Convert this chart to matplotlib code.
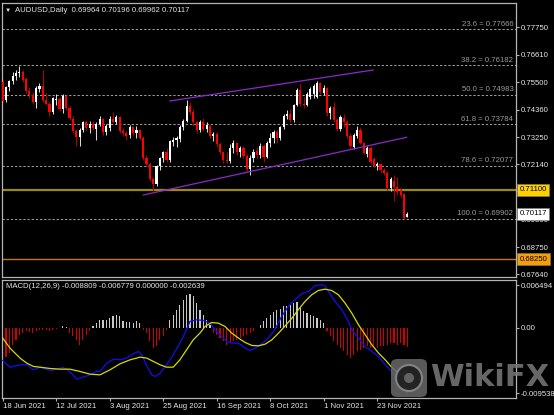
import numpy as np
import pandas as pd
import matplotlib
matplotlib.use("Agg")
import matplotlib.pyplot as plt
from matplotlib.transforms import blended_transform_factory
from matplotlib.patches import FancyBboxPatch, Ellipse

plt.rcParams['font.family'] = ['Liberation Sans', 'DejaVu Sans']

# ---- AUDUSD daily candles, 18 Jun 2021 .. 6 Dec 2021 ----
start_date = '2021-06-18'
o = [0.7550, 0.7478, 0.7528, 0.7555, 0.7575, 0.7585, 0.7592, 0.7562, 0.7512, 0.7497,
     0.7470, 0.7522, 0.7535, 0.7478, 0.7462, 0.7428, 0.7478, 0.7482, 0.7438, 0.7492,
     0.7442, 0.7400, 0.7350, 0.7325, 0.7352, 0.7385, 0.7362, 0.7380, 0.7360, 0.7378,
     0.7400, 0.7345, 0.7362, 0.7400, 0.7388, 0.7408, 0.7348, 0.7342, 0.7332, 0.7366,
     0.7342, 0.7352, 0.7322, 0.7238, 0.7215, 0.7155, 0.7135, 0.7205, 0.7240, 0.7262,
     0.7230, 0.7305, 0.7312, 0.7318, 0.7368, 0.7390, 0.7450, 0.7428, 0.7385, 0.7352,
     0.7385, 0.7358, 0.7372, 0.7328, 0.7338, 0.7295, 0.7265, 0.7232, 0.7228, 0.7280,
     0.7300, 0.7262, 0.7282, 0.7248, 0.7195, 0.7238, 0.7270, 0.7250, 0.7290, 0.7245,
     0.7300, 0.7320, 0.7345, 0.7320, 0.7365, 0.7410, 0.7420, 0.7395, 0.7455, 0.7517,
     0.7462, 0.7456, 0.7488, 0.7500, 0.7490, 0.7545, 0.7505, 0.7525, 0.7425, 0.7448,
     0.7395, 0.7360, 0.7405, 0.7385, 0.7330, 0.7285, 0.7330, 0.7355, 0.7300, 0.7255,
     0.7280, 0.7235, 0.7205, 0.7215, 0.7190, 0.7180, 0.7115, 0.7145, 0.7122, 0.7110,
     0.7092, 0.69964]
h = [0.7562, 0.7535, 0.7560, 0.7590, 0.7600, 0.7617, 0.7600, 0.7572, 0.7528, 0.7510,
     0.7532, 0.7548, 0.7599, 0.7505, 0.7470, 0.7490, 0.7500, 0.7490, 0.7500, 0.7498,
     0.7450, 0.7410, 0.7360, 0.7362, 0.7390, 0.7395, 0.7390, 0.7392, 0.7385, 0.7412,
     0.7405, 0.7380, 0.7410, 0.7427, 0.7415, 0.7412, 0.7362, 0.7350, 0.7375, 0.7372,
     0.7370, 0.7360, 0.7330, 0.7250, 0.7225, 0.7160, 0.7212, 0.7245, 0.7270, 0.7282,
     0.7315, 0.7325, 0.7330, 0.7375, 0.7400, 0.7478, 0.7470, 0.7440, 0.7392, 0.7395,
     0.7405, 0.7385, 0.7380, 0.7345, 0.7345, 0.7305, 0.7270, 0.7262, 0.7295, 0.7315,
     0.7305, 0.7290, 0.7290, 0.7255, 0.7250, 0.7275, 0.7285, 0.7300, 0.7295, 0.7310,
     0.7340, 0.7355, 0.7355, 0.7370, 0.7420, 0.7435, 0.7440, 0.7460, 0.7525, 0.7546,
     0.7490, 0.7508, 0.7530, 0.7540, 0.7556, 0.7550, 0.7538, 0.7530, 0.7450, 0.7470,
     0.7405, 0.7415, 0.7420, 0.7395, 0.7340, 0.7340, 0.7370, 0.7365, 0.7305, 0.7290,
     0.7290, 0.7245, 0.7225, 0.7220, 0.7200, 0.7185, 0.7160, 0.7170, 0.7160, 0.7115,
     0.7098, 0.70196]
l = [0.7468, 0.7470, 0.7512, 0.7540, 0.7560, 0.7570, 0.7550, 0.7505, 0.7485, 0.7462,
     0.7445, 0.7510, 0.7470, 0.7455, 0.7410, 0.7420, 0.7455, 0.7430, 0.7425, 0.7435,
     0.7395, 0.7340, 0.7289, 0.7288, 0.7345, 0.7355, 0.7340, 0.7355, 0.7315, 0.7372,
     0.7335, 0.7335, 0.7350, 0.7382, 0.7380, 0.7340, 0.7330, 0.7315, 0.7320, 0.7335,
     0.7322, 0.7315, 0.7230, 0.7205, 0.7145, 0.7106, 0.7125, 0.7190, 0.7225, 0.7222,
     0.7222, 0.7290, 0.7285, 0.7305, 0.7355, 0.7385, 0.7420, 0.7370, 0.7340, 0.7345,
     0.7350, 0.7345, 0.7320, 0.7310, 0.7285, 0.7255, 0.7220, 0.7220, 0.7220, 0.7260,
     0.7250, 0.7245, 0.7240, 0.7185, 0.7170, 0.7225, 0.7240, 0.7240, 0.7225, 0.7240,
     0.7285, 0.7300, 0.7300, 0.7315, 0.7360, 0.7400, 0.7385, 0.7385, 0.7450, 0.7450,
     0.7445, 0.7450, 0.7480, 0.7485, 0.7485, 0.7500, 0.7495, 0.7410, 0.7400, 0.7385,
     0.7350, 0.7350, 0.7365, 0.7320, 0.7280, 0.7275, 0.7320, 0.7295, 0.7255, 0.7245,
     0.7215, 0.7200, 0.7190, 0.7180, 0.7170, 0.7110, 0.7105, 0.7063, 0.7090, 0.7080,
     0.6992, 0.69962]
c = [0.7472, 0.7528, 0.7555, 0.7575, 0.7588, 0.7590, 0.7560, 0.7512, 0.7495, 0.7470,
     0.7525, 0.7535, 0.7478, 0.7462, 0.7428, 0.7485, 0.7482, 0.7438, 0.7492, 0.7442,
     0.7402, 0.7350, 0.7325, 0.7352, 0.7385, 0.7362, 0.7380, 0.7362, 0.7378, 0.7400,
     0.7345, 0.7372, 0.7400, 0.7388, 0.7408, 0.7348, 0.7340, 0.7330, 0.7368, 0.7342,
     0.7355, 0.7322, 0.7238, 0.7215, 0.7155, 0.7135, 0.7205, 0.7240, 0.7262, 0.7230,
     0.7310, 0.7315, 0.7320, 0.7368, 0.7392, 0.7450, 0.7428, 0.7385, 0.7352, 0.7385,
     0.7360, 0.7375, 0.7328, 0.7338, 0.7295, 0.7265, 0.7232, 0.7228, 0.7282, 0.7300,
     0.7262, 0.7282, 0.7248, 0.7195, 0.7238, 0.7265, 0.7250, 0.7290, 0.7245, 0.7300,
     0.7320, 0.7345, 0.7320, 0.7365, 0.7410, 0.7420, 0.7395, 0.7455, 0.7517, 0.7460,
     0.7455, 0.7502, 0.7522, 0.7535, 0.7545, 0.7510, 0.7525, 0.7425, 0.7445, 0.7395,
     0.7360, 0.7408, 0.7385, 0.7330, 0.7290, 0.7335, 0.7355, 0.7300, 0.7260, 0.7280,
     0.7225, 0.7208, 0.7215, 0.7190, 0.7178, 0.7115, 0.7155, 0.7120, 0.7100, 0.7090,
     0.6996, 0.70117]

# ---- MACD(12,26,9) panel ----
macd_hist = [-0.00299, -0.00390, -0.00344, -0.00231, -0.00163, -0.00095, -0.00072, -0.00050, -0.00063, -0.00072,
             -0.00050, -0.00027, -0.00036, -0.00027, -0.00050, -0.00036, -0.00018, -0.00009, 0.00018, 0.00005,
             -0.00072, -0.00118, -0.00163, -0.00231, -0.00163, -0.00095, -0.00050, 0.00018, 0.00063, 0.00109,
             0.00100, 0.00100, 0.00131, 0.00154, 0.00177, 0.00154, 0.00086, 0.00077, 0.00072, 0.00063,
             0.00086, 0.00063, -0.00027, -0.00072, -0.00186, -0.00276, -0.00254, -0.00163, -0.00118, -0.00027,
             0.00109, 0.00177, 0.00245, 0.00313, 0.00381, 0.00448, 0.00462, 0.00426, 0.00335, 0.00245,
             0.00177, 0.00109, 0.00041, -0.00072, -0.00095, -0.00140, -0.00186, -0.00231, -0.00208, -0.00186,
             -0.00163, -0.00140, -0.00118, -0.00095, -0.00072, -0.00050, -0.00009, 0.00041, 0.00086, 0.00131,
             0.00177, 0.00208, 0.00236, 0.00254, 0.00290, 0.00299, 0.00313, 0.00335, 0.00353, 0.00267,
             0.00222, 0.00199, 0.00177, 0.00163, 0.00131, 0.00100, 0.00063, -0.00050, -0.00118, -0.00186,
             -0.00231, -0.00276, -0.00322, -0.00367, -0.00412, -0.00367, -0.00322, -0.00299, -0.00276, -0.00254,
             -0.00276, -0.00254, -0.00276, -0.00254, -0.00254, -0.00231, -0.00208, -0.00208, -0.00231, -0.00208,
             -0.00231, -0.00264]

# main line (blue): bar position, value
macd_x = [0, 2.2, 5.2, 7.2, 9.2, 11.2, 14.2, 16.1, 18.1, 20.1, 22.1, 24.1, 26.1, 28.1, 29.1,
          31.1, 33.1, 35.1, 37.1, 39.1, 40.6, 41.6, 43.1, 44.6, 45.6, 47.1, 49.0, 51.0, 53.0,
          54.5, 56.0, 58.0, 60.0, 62.0, 63.5, 65.5, 67.0, 68.5, 70.5, 72.5, 74.0, 75.5, 77.5,
          79.4, 81.4, 83.4, 85.4, 87.4, 89.4, 91.4, 93.4, 95.4, 96.4, 97.4, 99.4, 101.4, 103.4,
          104.4, 106.4, 108.4, 110.4, 112.4, 114.4, 116.3, 118.3, 120.3, 121]
macd_main = [-0.00444, -0.00535, -0.00503, -0.00503, -0.00571, -0.00535, -0.00580, -0.00562, -0.00539,
             -0.00593, -0.00698, -0.00670, -0.00639, -0.00593, -0.00593, -0.00480, -0.00426, -0.00435,
             -0.00412, -0.00353, -0.00322, -0.00367, -0.00516, -0.00639, -0.00661, -0.00616, -0.00503,
             -0.00367, -0.00208, -0.00072, 0.00086, 0.00109, 0.00100, 0.00063, -0.00027, -0.00118,
             -0.00186, -0.00208, -0.00208, -0.00276, -0.00308, -0.00276, -0.00217, -0.00140, -0.00027,
             0.00154, 0.00290, 0.00381, 0.00462, 0.00494, 0.00571, 0.00584, 0.00571, 0.00494, 0.00358,
             0.00245, 0.00086, -0.00027, -0.00140, -0.00254, -0.00322, -0.00390, -0.00503, -0.00593,
             -0.00684, -0.00788, -0.00881]

# signal line (yellow)
signal_x = [0, 2.2, 5.2, 7.2, 9.2, 11.2, 14.2, 17.1, 20.1, 23.1, 26.1, 29.1, 32.1, 35.1, 38.1,
            41.1, 43.1, 45.1, 47.1, 49.0, 51.0, 53.0, 55.0, 57.0, 59.0, 60.5, 62.5, 64.5, 66.5,
            68.5, 70.5, 72.5, 74.5, 76.5, 78.5, 80.5, 82.5, 84.5, 86.5, 88.4, 90.4, 92.4, 94.4,
            96.4, 98.4, 100.4, 102.4, 104.4, 106.4, 108.4, 110.4, 112.4, 114.4, 116.3, 118.3, 121]
signal = [-0.00140, -0.00276, -0.00412, -0.00480, -0.00525, -0.00535, -0.00553, -0.00562, -0.00562,
          -0.00593, -0.00630, -0.00639, -0.00571, -0.00489, -0.00435, -0.00399, -0.00412, -0.00458,
          -0.00503, -0.00535, -0.00535, -0.00435, -0.00299, -0.00163, -0.00072, 0.00018, 0.00072,
          0.00063, 0.00018, -0.00072, -0.00140, -0.00199, -0.00240, -0.00245, -0.00222, -0.00163,
          -0.00072, 0.00027, 0.00131, 0.00245, 0.00358, 0.00448, 0.00507, 0.00525, 0.00507, 0.00448,
          0.00335, 0.00199, 0.00041, -0.00095, -0.00231, -0.00344, -0.00435, -0.00535, -0.00616,
          -0.00678]

# ---- chart objects ----
price_ticks = [0.77750, 0.76610, 0.75500, 0.74360, 0.73250, 0.72140, 0.71030, 0.69890, 0.68750, 0.67640]
fib_pct = ['23.6', '38.2', '50.0', '61.8', '78.6', '100.0']
fib_price = [0.77666, 0.76182, 0.74983, 0.73784, 0.72077, 0.69902]
level_gold = 0.71100
level_orange = 0.68250
upper_trend = ([50.0, 110.8], [0.74725, 0.75992])
lower_trend = ([42.05, 120.8], [0.70882, 0.73241])
date_ticks = ['2021-06-18', '2021-07-12', '2021-08-03', '2021-08-25',
              '2021-09-16', '2021-10-08', '2021-11-01', '2021-11-23']
macd_range = (-0.009538, 0.006494)
title = 'AUDUSD,Daily  0.69964 0.70196 0.69962 0.70117'
macd_title = 'MACD(12,26,9) -0.008809 -0.006779 0.000000 -0.002639'

W, H = 554, 415
def fx(px):
    return px / W
def fy(py):
    return 1 - py / H

BG = 'black'
FRAME = '#b4b4b4'
TXT = '#e6e6e6'
FS = 5.6

fig = plt.figure(figsize=(W / 100, H / 100), dpi=100, facecolor=BG)
ax = fig.add_axes([fx(2), fy(277), (516 - 2) / W, (277 - 3) / H], facecolor=BG)
axm = fig.add_axes([fx(2), fy(398), (516 - 2) / W, (398 - 280) / H], facecolor=BG)

dates = pd.bdate_range(start_date, periods=len(c))
x = np.arange(len(c))
xmax = (516 - 2.7) / 3.344
for a in (ax, axm):
    a.set_xlim(-0.2, xmax)
    for s in a.spines.values():
        s.set_color(FRAME)
        s.set_linewidth(0.9)

# candles
o_a, h_a, l_a, c_a = map(np.array, (o, h, l, c))
up = c_a >= o_a
body_lo = np.minimum(o_a, c_a)
body_h = np.maximum(np.abs(c_a - o_a), 0.00006)
ax.vlines(x[up], l_a[up], h_a[up], color='#d8d8d8', lw=0.75, zorder=3)
ax.vlines(x[~up], l_a[~up], h_a[~up], color='#b00000', lw=0.75, zorder=3)
ax.bar(x[up], body_h[up], bottom=body_lo[up], width=0.64, color='white', lw=0, zorder=4)
ax.bar(x[~up], body_h[~up], bottom=body_lo[~up], width=0.64, color='#ff0000', lw=0, zorder=4)

# fibonacci levels
for pct, val in zip(fib_pct, fib_price):
    ax.axhline(val, color='#9a9a9a', lw=0.75, ls=(0, (2.2, 1.8)), zorder=2)
    ax.text(0.995, val + 0.0006, f'{pct} = {val:.5f}', transform=blended_transform_factory(ax.transAxes, ax.transData),
            ha='right', va='bottom', fontsize=FS, color='#9a9a9a', zorder=6)

ax.axhline(level_gold, color='#9c8a10', lw=1.6, zorder=2)
ax.axhline(level_orange, color='#c87800', lw=1.0, zorder=2)
ax.plot(*upper_trend, color='#8a2bc8', lw=0.9, zorder=5)
ax.plot(*lower_trend, color='#8a2bc8', lw=0.9, zorder=5)

ax.set_ylim(0.7775 - 250 / 2446, 0.7775 + 24 / 2446)
ax.set_xticks([])
ax.yaxis.tick_right()
ax.set_yticks(price_ticks)
ax.set_yticklabels([f'{v:.5f}' for v in price_ticks])
ax.tick_params(axis='y', length=2.3, width=0.8, color=FRAME, labelcolor=TXT, labelsize=FS, pad=0.8)

tr = blended_transform_factory(ax.transAxes, ax.transData)
for val, txt, fc in [(level_gold, f'{level_gold:.5f}', '#ffd000'),
                     (c[-1], f'{c[-1]:.5f}', 'white'),
                     (level_orange, f'{level_orange:.5f}', '#f5a000')]:
    ax.text(1.0 + 3.5 / 514, val, txt, transform=tr, ha='left', va='center', fontsize=FS, color='black',
            bbox=dict(boxstyle='square,pad=0.32', fc=fc, ec='#808080', lw=0.4), clip_on=False, zorder=7)

fig.text(fx(5), fy(10), '▼', fontsize=4.5, color=TXT, va='center', ha='left')
fig.text(fx(15), fy(10), title, fontsize=FS, color=TXT, va='center', ha='left')

# MACD panel
hist = np.array(macd_hist)
axm.bar(x[hist >= 0], hist[hist >= 0], width=0.34, color='#c8c8c8', lw=0, zorder=2)
axm.bar(x[hist < 0], hist[hist < 0], width=0.34, color='#d00000', lw=0, zorder=2)
axm.plot(macd_x, macd_main, color='#1010f0', lw=0.9, zorder=3)
axm.plot(signal_x, signal, color='#d8d800', lw=0.9, zorder=4)
axm.set_ylim(*macd_range)
px_val = (macd_range[1] - macd_range[0]) / 118
axm.yaxis.tick_right()
axm.set_yticks([macd_range[1] - 5 * px_val, 0.0, macd_range[0] + 5 * px_val])
axm.set_yticklabels([f'{macd_range[1]:.6f}', '0.00', f'{macd_range[0]:.6f}'])
axm.tick_params(axis='y', length=2.3, width=0.8, color=FRAME, labelcolor=TXT, labelsize=FS, pad=0.8)

pos = dates.get_indexer(pd.to_datetime(date_ticks))
axm.set_xticks(pos)
axm.set_xticklabels([d.strftime('%-d %b %Y') for d in pd.to_datetime(date_ticks)])
axm.tick_params(axis='x', length=2.3, width=0.8, color=FRAME, labelcolor=TXT, labelsize=FS, pad=1.2)
for lab in axm.get_xticklabels():
    lab.set_ha('left')
fig.text(fx(6), fy(286), macd_title, fontsize=FS, color=TXT, va='center', ha='left')

# WikiFX watermark
fig.add_artist(FancyBboxPatch((fx(391), fy(397)), 36 / W, 38 / H, boxstyle='round,pad=0,rounding_size=0.012',
                              transform=fig.transFigure, fc='#6a6a6a', ec='none', alpha=0.85, zorder=10))
fig.add_artist(Ellipse((fx(409), fy(378)), 26 / W, 26 / H, transform=fig.transFigure,
                       fc='#1e1e1e', ec='#8a8a8a', lw=1.5, alpha=0.9, zorder=11))
fig.add_artist(Ellipse((fx(409), fy(378)), 10 / W, 10 / H, transform=fig.transFigure,
                       fc='#6a6a6a', ec='none', alpha=0.9, zorder=12))
fig.text(fx(430), fy(377), 'WikiFX', fontsize=22, fontweight='bold', color='#7a7a7a', alpha=0.85,
         va='center', ha='left', family=['DejaVu Sans'], zorder=10)

fig.savefig('out.png', dpi=100, facecolor=BG)
